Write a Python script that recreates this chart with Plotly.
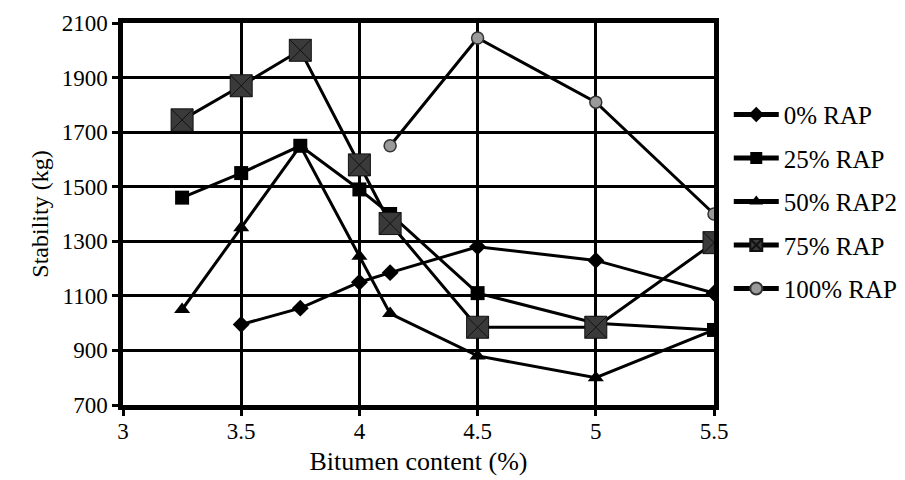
import plotly.graph_objects as go

# Marshall stability vs. bitumen content for mixes with different RAP shares
bitumen_0 = [3.5, 3.75, 4.0, 4.13, 4.5, 5.0, 5.5]
stab_0 = [995, 1055, 1150, 1185, 1280, 1230, 1110]

bitumen_25 = [3.25, 3.5, 3.75, 4.0, 4.13, 4.5, 5.0, 5.5]
stab_25 = [1460, 1550, 1650, 1490, 1400, 1110, 1000, 975]

bitumen_50 = [3.25, 3.5, 3.75, 4.0, 4.13, 4.5, 5.0, 5.5]
stab_50 = [1050, 1350, 1650, 1245, 1035, 880, 800, 975]

bitumen_75 = [3.25, 3.5, 3.75, 4.0, 4.13, 4.5, 5.0, 5.5]
stab_75 = [1745, 1870, 2000, 1580, 1365, 985, 985, 1295]

bitumen_100 = [4.13, 4.5, 5.0, 5.5]
stab_100 = [1650, 2045, 1810, 1400]

x_ticks = [3, 3.5, 4, 4.5, 5, 5.5]
y_ticks = [700, 900, 1100, 1300, 1500, 1700, 1900, 2100]

FONT = "Liberation Serif, Times New Roman, serif"

fig = go.Figure()

series = [
    ("0% RAP", bitumen_0, stab_0, dict(symbol="diamond", size=13, color="black")),
    ("25% RAP", bitumen_25, stab_25, dict(symbol="square", size=14, color="black")),
    ("50% RAP2", bitumen_50, stab_50, dict(symbol="triangle-up", size=14, color="black")),
    ("75% RAP", bitumen_75, stab_75,
     dict(symbol="square-x", size=22, color="#3a3a3a", line=dict(color="#111111", width=1))),
    ("100% RAP", bitumen_100, stab_100,
     dict(symbol="circle", size=12, color="#9a9a9a", line=dict(color="#333333", width=1.5))),
]

for i, (name, xs, ys, marker) in enumerate(series):
    fig.add_trace(go.Scatter(
        x=xs, y=ys, name=name, mode="lines+markers",
        line=dict(color="black", width=3),
        marker=marker,
        legendgroup=f"g{i}",
    ))

fig.update_layout(
    width=905, height=480,
    margin=dict(l=123, r=191, t=23, b=75, autoexpand=False),
    paper_bgcolor="white", plot_bgcolor="white",
    font=dict(family=FONT, size=22, color="black"),
    legend=dict(
        x=1.025, xanchor="left", y=0.82, yanchor="top",
        font=dict(family=FONT, size=25, color="black"),
        itemwidth=45, tracegroupgap=8,
        bgcolor="rgba(0,0,0,0)",
        itemsizing="constant",
    ),
    showlegend=True,
)

fig.update_xaxes(
    range=[3, 5.5], tickvals=x_ticks, ticktext=[f"{v:g}" for v in x_ticks],
    showgrid=True, gridcolor="black", gridwidth=2.5,
    showline=True, linecolor="black", linewidth=4.5, mirror=True,
    ticks="outside", ticklen=6, tickwidth=3, tickcolor="black",
    ticklabelstandoff=-4,
    zeroline=False, automargin=False,
    tickfont=dict(family=FONT, size=23),
    title=dict(text="Bitumen content (%)", font=dict(family=FONT, size=26), standoff=10),
)
fig.update_yaxes(
    range=[700, 2100], tickvals=y_ticks,
    showgrid=True, gridcolor="black", gridwidth=2.5,
    showline=True, linecolor="black", linewidth=4.5, mirror=True,
    ticks="outside", ticklen=6, tickwidth=3, tickcolor="black",
    zeroline=False, automargin=False,
    tickfont=dict(family=FONT, size=23),
    title=dict(text="Stability (kg)", font=dict(family=FONT, size=24), standoff=8),
)

fig.write_html("out.html")
